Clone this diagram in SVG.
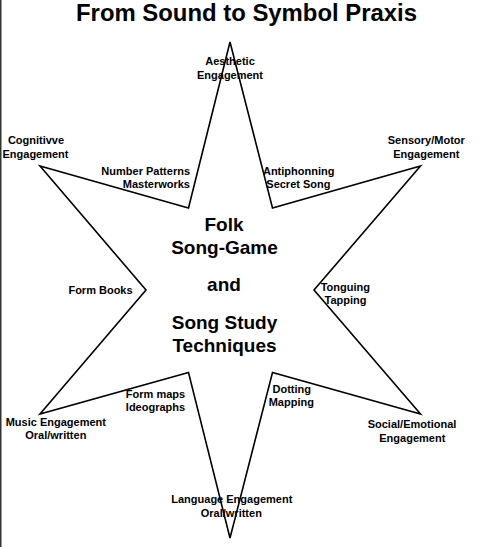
<svg xmlns="http://www.w3.org/2000/svg" width="493" height="547" viewBox="0 0 493 547">
<style>
text{font-family:"Liberation Sans",Arial,sans-serif;font-weight:bold;fill:#000}
.t{font-size:23.5px}
.c{font-size:19px}
.s{font-size:11px}
.star{fill:#fff;stroke:#000;stroke-width:1.6;stroke-linejoin:miter}
</style>
<rect x="0" y="0" width="493" height="547" fill="#fff"/>
<rect x="0" y="0" width="1.5" height="547" fill="#333"/>
<g id="title"><text class="t" x="246.5" y="21.3" text-anchor="middle" textLength="341" lengthAdjust="spacingAndGlyphs">From Sound to Symbol Praxis</text></g>
<g id="star">
<polygon class="star" points="230,42 272.5,208 420.5,166 314,290 420.5,414 272.5,372.5 230,538 188.5,372.5 40,414 146,290 40,166 188.5,208"/>
</g>
<g id="center" text-anchor="middle">
<text class="c" x="224" y="231">Folk</text>
<text class="c" x="224.5" y="254">Song-Game</text>
<text class="c" x="224" y="291">and</text>
<text class="c" x="224.5" y="329">Song Study</text>
<text class="c" x="224.5" y="352">Techniques</text>
</g>
<g id="aesthetic" text-anchor="middle">
<text class="s" x="230" y="65.3">Aesthetic</text>
<text class="s" x="230" y="78.5">Engagement</text>
</g>
<g id="cognitive" text-anchor="middle">
<text class="s" x="36" y="144">Cognitivve</text>
<text class="s" x="35.5" y="157.5">Engagement</text>
</g>
<g id="sensory" text-anchor="middle">
<text class="s" x="426.3" y="144">Sensory/Motor</text>
<text class="s" x="426.3" y="157.5">Engagement</text>
</g>
<g id="number" text-anchor="end">
<text class="s" x="190" y="175">Number Patterns</text>
<text class="s" x="190" y="188.3">Masterworks</text>
</g>
<g id="antiphon" text-anchor="middle">
<text class="s" x="298.7" y="174.5">Antiphonning</text>
<text class="s" x="298.4" y="187.8">Secret Song</text>
</g>
<g id="formbooks" text-anchor="middle">
<text class="s" x="100.5" y="294.3">Form Books</text>
</g>
<g id="tonguing" text-anchor="middle">
<text class="s" x="345.3" y="291">Tonguing</text>
<text class="s" x="345.5" y="304.3">Tapping</text>
</g>
<g id="formmaps" text-anchor="middle">
<text class="s" x="155.5" y="397.7">Form maps</text>
<text class="s" x="155.5" y="411">Ideographs</text>
</g>
<g id="dotting" text-anchor="middle">
<text class="s" x="291.8" y="392.7">Dotting</text>
<text class="s" x="291.3" y="406">Mapping</text>
</g>
<g id="music" text-anchor="middle">
<text class="s" x="55.8" y="425.7">Music Engagement</text>
<text class="s" x="55.8" y="439.3">Oral/written</text>
</g>
<g id="social" text-anchor="middle">
<text class="s" x="412" y="428.3">Social/Emotional</text>
<text class="s" x="412.3" y="442.3">Engagement</text>
</g>
<g id="language" text-anchor="middle">
<text class="s" x="231.8" y="503.3">Language Engagement</text>
<text class="s" x="231.3" y="517.3">Oral/written</text>
</g>
<g id="connectors"></g>
</svg>
